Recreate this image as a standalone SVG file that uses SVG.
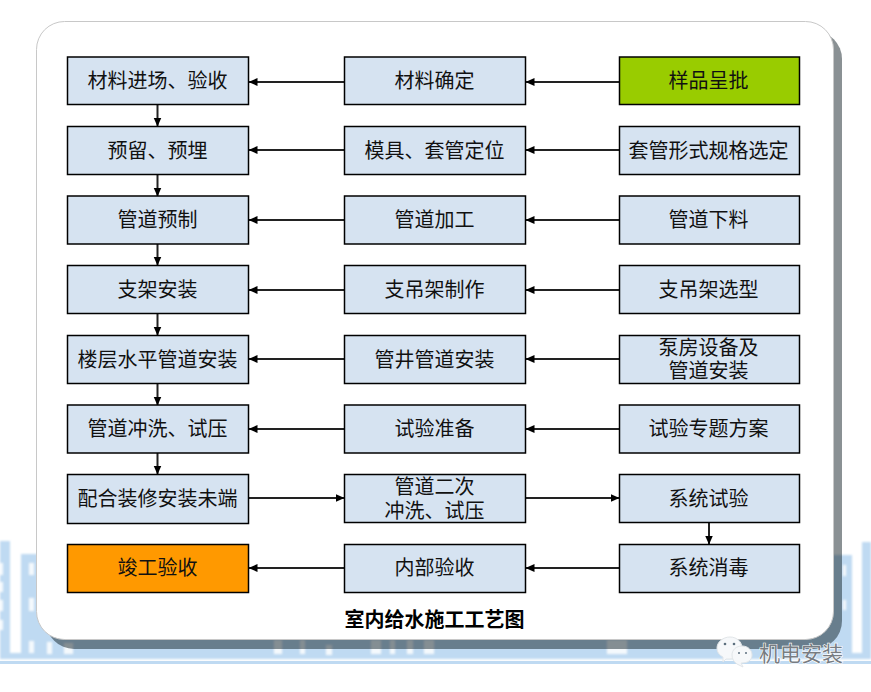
<svg xmlns="http://www.w3.org/2000/svg" width="871" height="692" viewBox="0 0 871 692">
<style>
text{font-family:"Noto Sans CJK SC","Liberation Sans",sans-serif;font-size:20px;fill:#111;text-anchor:middle;dominant-baseline:central}
.n rect{fill:#d6e3f1;stroke:#000;stroke-width:1.5}
.g{fill:#99cc00!important}
.o{fill:#ff9900!important}
.c line{stroke:#222;stroke-width:2}
.b{fill:#bfdaf2}
.w{fill:#f4f9fd}
</style>
<defs>
<marker id="ah" markerUnits="userSpaceOnUse" markerWidth="10" markerHeight="10" refX="8.5" refY="5" orient="auto"><path d="M0 1L9 5L0 9Z" fill="#000"/></marker>
<filter id="bl" x="-5%" y="-5%" width="110%" height="110%"><feGaussianBlur stdDeviation="0.8"/></filter>
</defs>
<rect width="871" height="692" fill="#fff"/>
<g id="background">
<g filter="url(#bl)">
<rect class="b" x="0" y="541" width="10" height="112"/>
<rect class="b" x="21" y="554" width="110" height="99"/>
<rect class="b" x="130" y="600" width="720" height="53"/>
<rect class="b" x="830" y="555" width="22" height="98"/>
<rect class="b" x="862" y="542" width="9" height="111"/>
<rect class="b" x="0" y="653" width="871" height="6"/>
<g class="w">
<rect x="0" y="563" width="3" height="12"/><rect x="0" y="582" width="3" height="10"/><rect x="0" y="600" width="3" height="11"/><rect x="0" y="620" width="3" height="10"/>
<rect x="29" y="563" width="5" height="12"/><rect x="29" y="598" width="5" height="13"/><rect x="29" y="641" width="5" height="12"/>
<rect x="47" y="642" width="5" height="12"/><rect x="64" y="643" width="9" height="11"/>
<rect x="274" y="640" width="8" height="14"/><rect x="300" y="640" width="5" height="14"/><rect x="326" y="645" width="6" height="10"/>
<rect x="371" y="640" width="10" height="14"/><rect x="390" y="640" width="5" height="14"/><rect x="407" y="640" width="6" height="14"/><rect x="424" y="640" width="10" height="14"/>
<rect x="607" y="640" width="20" height="14"/>
<rect x="843" y="565" width="3" height="11"/><rect x="843" y="600" width="3" height="10"/>
</g>
</g>
<rect class="b" x="0" y="661" width="871" height="3"/>
</g>
<rect id="shadow" x="46" y="31" width="796" height="618" rx="28" fill="#0a1a20" fill-opacity=".48"/>
<rect id="card" x="36.500" y="21.500" width="797" height="618" rx="28" fill="#fff" stroke="#c8c8c8" stroke-width="1"/>
<g id="connectors" class="c">
<line x1="344" y1="82" x2="249" y2="82" marker-end="url(#ah)"/><line x1="619" y1="82" x2="526" y2="82" marker-end="url(#ah)"/>
<line x1="344" y1="150" x2="249" y2="150" marker-end="url(#ah)"/><line x1="619" y1="150" x2="526" y2="150" marker-end="url(#ah)"/>
<line x1="344" y1="220" x2="249" y2="220" marker-end="url(#ah)"/><line x1="619" y1="220" x2="526" y2="220" marker-end="url(#ah)"/>
<line x1="344" y1="290" x2="249" y2="290" marker-end="url(#ah)"/><line x1="619" y1="290" x2="526" y2="290" marker-end="url(#ah)"/>
<line x1="344" y1="359" x2="249" y2="359" marker-end="url(#ah)"/><line x1="619" y1="359" x2="526" y2="359" marker-end="url(#ah)"/>
<line x1="344" y1="429" x2="249" y2="429" marker-end="url(#ah)"/><line x1="619" y1="429" x2="526" y2="429" marker-end="url(#ah)"/>
<line x1="249" y1="498" x2="344" y2="498" marker-end="url(#ah)"/><line x1="526" y1="498" x2="619" y2="498" marker-end="url(#ah)"/>
<line x1="344" y1="568" x2="249" y2="568" marker-end="url(#ah)"/><line x1="619" y1="568" x2="526" y2="568" marker-end="url(#ah)"/>
<line x1="157.500" y1="105" x2="157.500" y2="126" marker-end="url(#ah)"/>
<line x1="157.500" y1="175" x2="157.500" y2="196" marker-end="url(#ah)"/>
<line x1="157.500" y1="244" x2="157.500" y2="265" marker-end="url(#ah)"/>
<line x1="157.500" y1="314" x2="157.500" y2="335" marker-end="url(#ah)"/>
<line x1="157.500" y1="384" x2="157.500" y2="405" marker-end="url(#ah)"/>
<line x1="157.500" y1="453" x2="157.500" y2="474" marker-end="url(#ah)"/>
<line x1="709" y1="523" x2="709" y2="544" marker-end="url(#ah)"/>
</g>
<g id="n11" class="n"><rect x="67.500" y="57" width="181" height="47.500"/><text x="157.500" y="79">材料进场、验收</text></g>
<g id="n12" class="n"><rect x="344.500" y="57" width="181" height="47.500"/><text x="434.500" y="79">材料确定</text></g>
<g id="n13" class="n"><rect class="g" x="619.500" y="57" width="180" height="47.500"/><text x="708.500" y="79">样品呈批</text></g>
<g id="n21" class="n"><rect x="67.500" y="126.500" width="181" height="48"/><text x="157.500" y="149">预留、预埋</text></g>
<g id="n22" class="n"><rect x="344.500" y="126.500" width="181" height="48"/><text x="434.500" y="149">模具、套管定位</text></g>
<g id="n23" class="n"><rect x="619.500" y="126.500" width="180" height="48"/><text x="708.500" y="149">套管形式规格选定</text></g>
<g id="n31" class="n"><rect x="67.500" y="196" width="181" height="48"/><text x="157.500" y="218">管道预制</text></g>
<g id="n32" class="n"><rect x="344.500" y="196" width="181" height="48"/><text x="434.500" y="218">管道加工</text></g>
<g id="n33" class="n"><rect x="619.500" y="196" width="180" height="48"/><text x="708.500" y="218">管道下料</text></g>
<g id="n41" class="n"><rect x="67.500" y="265.500" width="181" height="48"/><text x="157.500" y="288">支架安装</text></g>
<g id="n42" class="n"><rect x="344.500" y="265.500" width="181" height="48"/><text x="434.500" y="288">支吊架制作</text></g>
<g id="n43" class="n"><rect x="619.500" y="265.500" width="180" height="48"/><text x="708.500" y="288">支吊架选型</text></g>
<g id="n51" class="n"><rect x="67.500" y="335.500" width="181" height="48"/><text x="157.500" y="358">楼层水平管道安装</text></g>
<g id="n52" class="n"><rect x="344.500" y="335.500" width="181" height="48"/><text x="434.500" y="358">管井管道安装</text></g>
<g id="n53" class="n"><rect x="619.500" y="335.500" width="180" height="48"/><text><tspan x="708.500" y="346">泵房设备及</tspan><tspan x="708.500" y="369">管道安装</tspan></text></g>
<g id="n61" class="n"><rect x="67.500" y="405" width="181" height="48"/><text x="157.500" y="427">管道冲洗、试压</text></g>
<g id="n62" class="n"><rect x="344.500" y="405" width="181" height="48"/><text x="434.500" y="427">试验准备</text></g>
<g id="n63" class="n"><rect x="619.500" y="405" width="180" height="48"/><text x="708.500" y="427">试验专题方案</text></g>
<g id="n71" class="n"><rect x="67.500" y="474.500" width="181" height="49"/><text x="157.500" y="497">配合装修安装未端</text></g>
<g id="n72" class="n"><rect x="344.500" y="474.500" width="181" height="48"/><text><tspan x="434.500" y="485">管道二次</tspan><tspan x="434.500" y="509">冲洗、试压</tspan></text></g>
<g id="n73" class="n"><rect x="619.500" y="474.500" width="180" height="48"/><text x="708.500" y="497">系统试验</text></g>
<g id="n81" class="n"><rect class="o" x="67.500" y="544.500" width="181" height="48"/><text x="157.500" y="566">竣工验收</text></g>
<g id="n82" class="n"><rect x="344.500" y="544.500" width="181" height="48"/><text x="434.500" y="566">内部验收</text></g>
<g id="n83" class="n"><rect x="619.500" y="544.500" width="180" height="48"/><text x="708.500" y="566">系统消毒</text></g>
<text id="title" x="434.500" y="618" font-weight="700" style="fill:#000">室内给水施工工艺图</text>
<g id="watermark">
<g fill="#f6f8fa" stroke="#e2e6e9" stroke-width="1">
<path d="M730 637c7 0 12 5 12 11s-5 11-12 11l-4 0-3 3 0-5c-4-2-6-5-6-9 0-6 6-11 13-11z"/>
<path d="M742 646c6 0 10 4 10 9s-4 8-10 8l-1 0 2 4-6-3c-3-2-5-5-5-9 0-5 4-9 10-9z"/>
</g>
<g fill="#5c6f7e"><circle cx="725" cy="644" r="1.300"/><circle cx="734" cy="644" r="1.300"/><circle cx="739" cy="653" r="1"/><circle cx="746" cy="653" r="1"/></g>
<text x="801" y="652" style="font-size:21px;fill:#777c82;stroke:#fff;stroke-width:1.200;paint-order:stroke">机电安装</text>
</g>
</svg>
